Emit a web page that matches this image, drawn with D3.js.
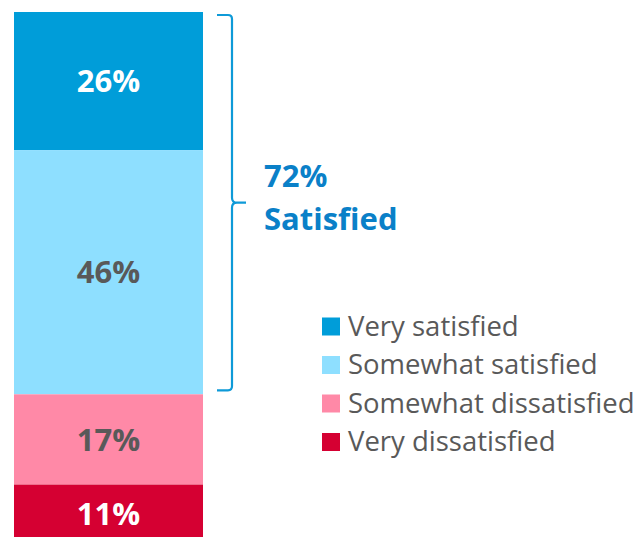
<!DOCTYPE html>
<html>
<head>
<meta charset="utf-8">
<script src="https://cdn.jsdelivr.net/npm/d3@7"></script>
<style>
  html, body { margin: 0; padding: 0; background: #fff; }
  svg { display: block; }
</style>
</head>
<body>
<svg id="chart" width="641" height="537"></svg>
<script>
// Satisfaction breakdown, top to bottom of the stacked bar
const categories = ["Very satisfied", "Somewhat satisfied", "Somewhat dissatisfied", "Very dissatisfied"];
const values = [26, 46, 17, 11];
const colors = ["#009dd9", "#8edfff", "#ff89a7", "#d50032"];
const labelColors = ["#ffffff", "#595959", "#595959", "#ffffff"];
const satisfiedTotal = values[0] + values[1];

const svg = d3.select("#chart");
const font = "'Open Sans', sans-serif";

const y = d3.scaleLinear().domain([0, 100]).range([12, 543]);
const x = d3.scaleBand().domain(["all"]).range([14, 203]).padding(0);

// cumulative stack offsets
let acc = 0;
const segs = values.map((v, i) => {
  const s = { cat: categories[i], v, y0: acc, y1: acc + v, i };
  acc += v;
  return s;
});

svg.selectAll("rect.seg").data(segs).enter().append("rect")
  .attr("class", "seg")
  .attr("x", x("all"))
  .attr("width", x.bandwidth())
  .attr("y", d => y(d.y0))
  .attr("height", d => y(d.y1) - y(d.y0))
  .attr("fill", d => colors[d.i]);

svg.selectAll("text.seglabel").data(segs).enter().append("text")
  .attr("class", "seglabel")
  .attr("x", x("all") + x.bandwidth() / 2)
  .attr("y", d => (y(d.y0) + y(d.y1)) / 2)
  .attr("dy", "0.36em")
  .attr("text-anchor", "middle")
  .attr("font-family", font)
  .attr("font-weight", "bold")
  .attr("font-size", 31)
  .attr("fill", d => labelColors[d.i])
  .text(d => d.v + "%");

// curly bracket spanning the satisfied segments
const bTop = y(0) + 3;
const bBot = y(satisfiedTotal) - 4;
const bMid = (bTop + bBot) / 2;
const bx = 232, bl = 217, tip = 246;
const p = d3.path();
p.moveTo(bl, bTop);
p.lineTo(bx - 4, bTop);
p.quadraticCurveTo(bx, bTop, bx, bTop + 4);
p.lineTo(bx, bMid - 5);
p.quadraticCurveTo(bx, bMid, bx + 5, bMid);
p.lineTo(tip, bMid);
p.moveTo(bx + 5, bMid);
p.quadraticCurveTo(bx, bMid, bx, bMid + 5);
p.lineTo(bx, bBot - 4);
p.quadraticCurveTo(bx, bBot, bx - 4, bBot);
p.lineTo(bl, bBot);
svg.append("path")
  .attr("d", p.toString())
  .attr("fill", "none")
  .attr("stroke", "#0e9ad8")
  .attr("stroke-width", 2.2);

const sumText = svg.append("text")
  .attr("font-family", font)
  .attr("font-weight", "bold")
  .attr("font-size", 31)
  .attr("fill", "#0a80c8");
sumText.append("tspan").attr("x", 264).attr("y", 187).text(satisfiedTotal + "%");
sumText.append("tspan").attr("x", 264).attr("y", 230).text("Satisfied");

// legend
const legend = svg.append("g").attr("transform", "translate(322,0)");
const rowY = d3.scalePoint().domain(categories).range([335.5, 451]);
const items = legend.selectAll("g").data(categories).enter().append("g")
  .attr("transform", d => `translate(0,${rowY(d)})`);
items.append("rect")
  .attr("x", 0).attr("y", -18).attr("width", 18).attr("height", 18)
  .attr("fill", (d, i) => colors[i]);
items.append("text")
  .attr("x", 26).attr("y", 0)
  .attr("font-family", font)
  .attr("font-size", 27.5)
  .attr("fill", "#595959")
  .text(d => d);
</script>
</body>
</html>
